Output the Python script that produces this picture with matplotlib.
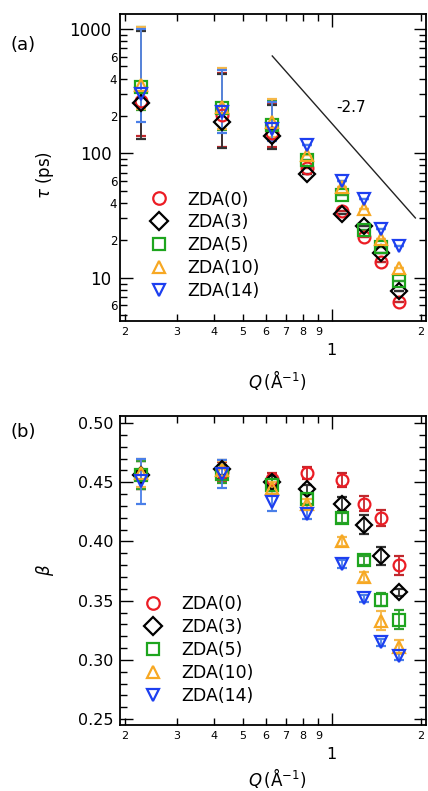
import matplotlib
matplotlib.use('Agg')
import matplotlib.pyplot as plt
from matplotlib.ticker import FixedLocator, FuncFormatter, NullFormatter
from matplotlib.lines import Line2D
import numpy as np

# data
Q = [0.226, 0.427, 0.629, 0.824, 1.08, 1.28, 1.47, 1.68]
labels = ['ZDA(0)', 'ZDA(3)', 'ZDA(5)', 'ZDA(10)', 'ZDA(14)']
colors = ['#ec1c24', '#000000', '#1ea51e', '#f7a823', '#1d3ff0']
ecolors = ['#c0282d', '#333333', '#2f9e2f', '#f5b84a', '#4a7fe8']
markers = ['o', 'D', 's', '^', 'v']

# tau (ps), with lower / upper bounds of the error bars
tau = [
    [264, 205, 145, 77, 34.5, 21.4, 13.4, 6.4],
    [252, 180, 137, 68, 32.8, 26.0, 15.8, 7.9],
    [345, 232, 168, 89, 46.5, 24.3, 17.8, 9.5],
    [355, 235, 180, 98, 54.0, 35.8, 20.6, 12.0],
    [298, 214, 158, 117, 60.0, 43.0, 24.8, 18.1],
]
tau_lo = [
    [138, 113, 113, 77, 34.5, 21.4, 13.4, 6.4],
    [131, 110, 108, 68, 32.8, 26.0, 15.8, 7.9],
    [222, 155, 130, 89, 46.5, 24.3, 17.8, 9.5],
    [228, 158, 135, 98, 54.0, 35.8, 20.6, 12.0],
    [178, 146, 125, 117, 60.0, 43.0, 24.8, 18.1],
]
tau_hi = [
    [980, 443, 250, 77, 34.5, 21.4, 13.4, 6.4],
    [960, 435, 245, 68, 32.8, 26.0, 15.8, 7.9],
    [1030, 480, 262, 89, 46.5, 24.3, 17.8, 9.5],
    [1040, 485, 275, 98, 54.0, 35.8, 20.6, 12.0],
    [1000, 470, 258, 117, 60.0, 43.0, 24.8, 18.1],
]

beta = [
    [0.456, 0.459, 0.453, 0.458, 0.452, 0.432, 0.420, 0.380],
    [0.456, 0.461, 0.450, 0.444, 0.432, 0.414, 0.388, 0.357],
    [0.456, 0.457, 0.448, 0.436, 0.420, 0.384, 0.351, 0.334],
    [0.458, 0.460, 0.445, 0.432, 0.400, 0.370, 0.333, 0.311],
    [0.451, 0.457, 0.433, 0.423, 0.381, 0.352, 0.315, 0.303],
]
beta_err = [
    [0.012, 0.008, 0.005, 0.005, 0.006, 0.0065, 0.007, 0.008],
    [0.012, 0.008, 0.005, 0.004, 0.006, 0.008, 0.0075, 0.003],
    [0.012, 0.008, 0.005, 0.004, 0.004, 0.004, 0.0055, 0.0083],
    [0.012, 0.008, 0.005, 0.004, 0.004, 0.004, 0.008, 0.006],
    [0.019, 0.012, 0.007, 0.004, 0.003, 0.003, 0.003, 0.003],
]

# guide line with slope -2.7
guide_q = [0.629, 1.915]
guide_tau = [607, 30.3]

fig = plt.figure(figsize=(4.28, 7.91), dpi=100)
axa = fig.add_axes([120/428, 1-321/791, 306/428, 307/791])
axb = fig.add_axes([120/428, 1-725/791, 306/428, 309/791])

for i in range(5):
    y = np.array(tau[i])
    yerr = [y - np.array(tau_lo[i]), np.array(tau_hi[i]) - y]
    axa.errorbar(Q, y, yerr=yerr, fmt=markers[i], color=colors[i], ecolor=ecolors[i],
                 mfc='none', mec=colors[i], ms=8.5, mew=1.6, elinewidth=1.3,
                 capsize=3.5, capthick=1.3)
    axb.errorbar(Q, beta[i], yerr=beta_err[i], fmt=markers[i], color=colors[i], ecolor=ecolors[i],
                 mfc='none', mec=colors[i], ms=8.5, mew=1.6, elinewidth=1.3,
                 capsize=3.5, capthick=1.3)

axa.plot(guide_q, guide_tau, color='#222222', lw=1)
axa.text(1.158, 236, '-2.7', fontsize=11, ha='center', va='center')

minor_q = [0.2, 0.3, 0.4, 0.5, 0.6, 0.7, 0.8, 0.9, 2.0]

def qlab(v, pos):
    return str(int(round(v * 10))) if v < 1 else str(int(round(v)))

for ax in (axa, axb):
    ax.set_xscale('log')
    ax.set_xlim(0.1924, 2.08)
    ax.xaxis.set_major_locator(FixedLocator([1.0]))
    ax.xaxis.set_minor_locator(FixedLocator(minor_q))
    ax.xaxis.set_major_formatter(FuncFormatter(lambda v, p: '1'))
    ax.xaxis.set_minor_formatter(FuncFormatter(qlab))
    ax.tick_params(axis='both', which='both', direction='in', top=True, right=True, width=1)
    ax.tick_params(axis='both', which='major', length=9)
    ax.tick_params(axis='both', which='minor', length=5)
    ax.tick_params(axis='x', which='minor', labelsize=8, pad=4)
    ax.tick_params(axis='x', which='major', labelsize=11.5, pad=16)
    for s in ax.spines.values():
        s.set_linewidth(1.3)

# panel (a) y axis
axa.set_yscale('log')
axa.set_ylim(4.5, 1320)
axa.yaxis.set_major_locator(FixedLocator([10, 100, 1000]))
axa.yaxis.set_minor_locator(FixedLocator([5, 6, 7, 8, 9, 20, 30, 40, 50, 60, 70, 80, 90,
                                          200, 300, 400, 500, 600, 700, 800, 900]))
axa.yaxis.set_major_formatter(FuncFormatter(lambda v, p: '%d' % v))

def tlab(v, pos):
    d = int(round(v / 10 ** np.floor(np.log10(v))))
    return str(d) if d in (2, 4, 6) else ''

axa.yaxis.set_minor_formatter(FuncFormatter(tlab))
axa.tick_params(axis='y', which='major', labelsize=12, pad=6)
axa.tick_params(axis='y', which='minor', labelsize=8.5, pad=2)

# panel (b) y axis
axb.set_ylim(0.245, 0.506)
axb.yaxis.set_major_locator(FixedLocator([0.25, 0.30, 0.35, 0.40, 0.45, 0.50]))
axb.yaxis.set_minor_locator(FixedLocator(np.arange(0.25, 0.5001, 0.01)))
axb.yaxis.set_major_formatter(FuncFormatter(lambda v, p: '%.2f' % v))
axb.yaxis.set_minor_formatter(NullFormatter())
axb.tick_params(axis='y', which='major', labelsize=11.5, pad=5)

handles = [Line2D([], [], ls='none', marker=markers[i], mfc='none', mec=colors[i],
                  ms=9, mew=1.6) for i in range(5)]
axa.legend(handles, labels, loc='upper left', bbox_to_anchor=(0.099, 0.425), frameon=False,
           fontsize=12.5, labelspacing=0.28, handlelength=1.0, handletextpad=1.1,
           borderaxespad=0, borderpad=0)
axb.legend(handles, labels, loc='upper left', bbox_to_anchor=(0.08, 0.42), frameon=False,
           fontsize=12.5, labelspacing=0.28, handlelength=1.0, handletextpad=1.1,
           borderaxespad=0, borderpad=0)

fig.text(23/428, 1-45/791, '(a)', fontsize=13, ha='center', va='center')
fig.text(23/428, 1-432/791, '(b)', fontsize=13, ha='center', va='center')
fig.text(45/428, 1-175/791, r'$\tau$ (ps)', fontsize=12, rotation=90, ha='center', va='center')
fig.text(45/428, 1-570/791, r'$\beta$', fontsize=12, rotation=90, ha='center', va='center')
fig.text(277/428, 1-380/791, r'$Q\,$(Å$^{-1}$)', fontsize=12, ha='center', va='center')
fig.text(277/428, 1-778/791, r'$Q\,$(Å$^{-1}$)', fontsize=12, ha='center', va='center')

fig.savefig('out.png', dpi=100)
